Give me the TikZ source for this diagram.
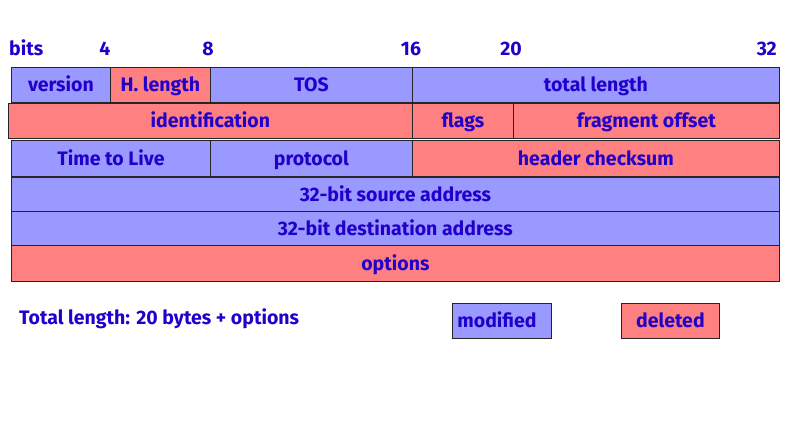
\documentclass[tikz,border=0pt]{standalone}
\usepackage{fontspec}
\setmainfont{Fira Sans}
\usetikzlibrary{positioning}
\definecolor{fieldblue}{RGB}{153,153,255}
\definecolor{fieldred}{RGB}{255,128,128}
\definecolor{labelblue}{RGB}{34,0,204}

\begin{document}
\begin{tikzpicture}[x=1pt,y=-1pt]
    \tikzstyle{label}=[font=\fontsize{19.5}{23}\selectfont\bfseries,text=labelblue,inner sep=0pt,text height=16pt,text depth=2pt]
    \tikzstyle{field}=[label,draw=black!85,line width=0.8pt,anchor=north west]
    \tikzstyle{modfield}=[field,fill=fieldblue]
    \tikzstyle{delfield}=[field,fill=fieldred]
    \useasboundingbox (0,0) rectangle (800,427);
    % bit positions
    \node[label,anchor=west] (bits) at (9,49) {bits};
    \node[label] (bit_4) at (105,49) {4};
    \node[label] (bit_8) at (208,49) {8};
    \node[label] (bit_16) at (411,49) {16};
    \node[label] (bit_20) at (511,49) {20};
    \node[label,anchor=east] (bit_32) at (777,49) {32};
    % header fields
    \node[modfield,minimum width=99,minimum height=35] (version) at (11,67) {version};
    \node[delfield,minimum width=100,minimum height=35] (hlength) at (110,67) {H. length};
    \node[modfield,minimum width=202,minimum height=35] (tos) at (210,67) {TOS};
    \node[modfield,minimum width=367,minimum height=35] (totlength) at (412,67) {total length};
    \node[delfield,minimum width=404,minimum height=35] (ident) at (8,103) {identification};
    \node[delfield,minimum width=101,minimum height=35] (flags) at (412,103) {flags};
    \node[delfield,minimum width=266,minimum height=35] (fragoff) at (513,103) {fragment offset};
    \node[modfield,minimum width=199,minimum height=36] (ttl) at (11,140) {Time to Live};
    \node[modfield,minimum width=202,minimum height=36] (proto) at (210,140) {protocol};
    \node[delfield,minimum width=367,minimum height=36] (checksum) at (412,140) {header checksum};
    \node[modfield,minimum width=768,minimum height=34] (srcaddr) at (11,177) {32-bit source address};
    \node[modfield,minimum width=768,minimum height=34] (dstaddr) at (11,211) {32-bit destination address};
    \node[delfield,minimum width=768,minimum height=36] (options) at (11,245) {options};
    % legend
    \node[label,anchor=west] (total) at (19,318) {Total length: 20 bytes + options};
    \node[modfield,inner xsep=5pt,text width=89pt,align=left,minimum height=35] (modified) at (452,303) {modified};
    \node[delfield,minimum width=98,minimum height=35] (deleted) at (621,303) {deleted};
\end{tikzpicture}
\end{document}
